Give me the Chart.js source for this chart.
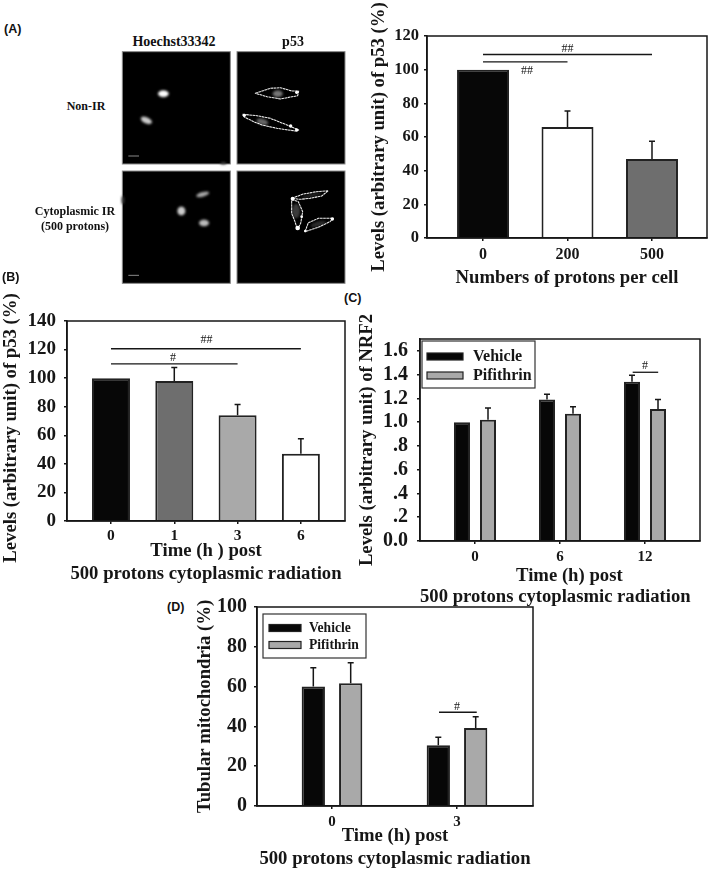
<!DOCTYPE html>
<html>
<head>
<meta charset="utf-8">
<script src="https://cdn.jsdelivr.net/npm/chart.js@4"></script>
<style>
html,body{margin:0;padding:0;background:#fff;}
#page{position:relative;width:709px;height:870px;overflow:hidden;background:#fff;}
.cv{position:absolute;}
.t{position:absolute;transform:translate(-50%,-50%);white-space:nowrap;color:#111;font:bold 12px "Liberation Serif",serif;}
.p{position:absolute;white-space:nowrap;color:#111;font:bold 12.5px "Liberation Sans",sans-serif;line-height:14px;}
svg{position:absolute;left:0;top:0;}
</style>
</head>
<body>
<div id="page">
<svg width="709" height="870" viewBox="0 0 2127 2610">
  <defs>
    <filter id="b"><feGaussianBlur stdDeviation="3"/></filter>
    <filter id="c"><feGaussianBlur stdDeviation="0.9"/></filter>
  </defs>
  <g fill="#000" stroke="#8a8a8a" stroke-width="3">
    <rect x="367" y="155" width="324" height="337"/>
    <rect x="711" y="155" width="324" height="337"/>
    <rect x="367" y="513" width="324" height="337"/>
    <rect x="711" y="513" width="324" height="337"/>
  </g>
  <g filter="url(#b)" fill="#fff">
    <ellipse cx="490" cy="281" rx="16" ry="10"/>
    <ellipse cx="439" cy="361" rx="18" ry="9" transform="rotate(25 439 361)" fill="#ccc"/>
    <ellipse cx="608" cy="583" rx="20" ry="7" transform="rotate(-15 608 583)" fill="#aaa"/>
    <ellipse cx="544" cy="633" rx="12" ry="13" fill="#ccc"/>
    <ellipse cx="612" cy="669" rx="15" ry="10" fill="#bbb"/>
    <ellipse cx="368" cy="600" rx="4" ry="12" fill="#444"/>
    <ellipse cx="670" cy="490" rx="9" ry="4" fill="#444"/>
    <ellipse cx="833" cy="281" rx="15" ry="10" fill="#777"/>
    <ellipse cx="787" cy="365" rx="18" ry="9" transform="rotate(15 787 365)" fill="#666"/>
    <ellipse cx="888" cy="633" rx="12" ry="22" fill="#3a3a3a"/>
    <ellipse cx="955" cy="672" rx="24" ry="8" transform="rotate(-15 955 672)" fill="#2a2a2a"/>
    <ellipse cx="935" cy="586" rx="30" ry="6" transform="rotate(-12 935 586)" fill="#222"/>
  </g>
  <g filter="url(#c)" fill="none" stroke="#eee" stroke-width="3.2" stroke-dasharray="8 1.5" stroke-linejoin="round">
    <polygon points="766,280 811,265 841,263 876,273 896,273 893,287 841,297 801,290"/>
    <polygon points="729,343 771,347 811,355 861,375 896,390 886,393 831,385 786,375 761,365 733,351"/>
    <polygon points="875,595 910,582 950,575 985,572 965,588 930,595 900,598"/>
    <polygon points="875,598 895,605 908,635 902,670 892,688 885,665 875,640"/>
    <polygon points="915,695 925,668 955,655 1000,655 990,665 955,682"/>
  </g>
  <g filter="url(#c)" fill="#fff">
    <circle cx="890" cy="277" r="5"/><circle cx="733" cy="346" r="5"/><circle cx="872" cy="378" r="5"/><circle cx="890" cy="390" r="5"/>
    <circle cx="878" cy="596" r="6"/><circle cx="893" cy="684" r="7"/><circle cx="905" cy="650" r="4"/><circle cx="997" cy="657" r="5"/><circle cx="916" cy="693" r="4"/>
  </g>
  <g stroke="#888" stroke-width="3">
    <line x1="385" y1="468" x2="417" y2="468"/>
    <line x1="385" y1="826" x2="417" y2="826"/>
  </g>
</svg>

<div class="t" style="left:174px;top:42px;font-size:14px;">Hoechst33342</div>
<div class="t" style="left:293px;top:42px;font-size:14px;">p53</div>
<div class="t" style="left:86px;top:106px;">Non-IR</div>
<div class="t" style="left:75px;top:211px;">Cytoplasmic IR</div>
<div class="t" style="left:75px;top:226px;">(500 protons)</div>
<div class="p" style="left:4px;top:22px;">(A)</div>
<div class="p" style="left:2px;top:270px;">(B)</div>
<div class="p" style="left:344px;top:291px;">(C)</div>
<div class="p" style="left:167px;top:600px;">(D)</div>

<canvas class="cv" id="chartA" style="left:362px;top:0;width:347px;height:290px;" width="347" height="290"></canvas>
<canvas class="cv" id="chartB" style="left:0;top:290px;width:350px;height:300px;" width="350" height="300"></canvas>
<canvas class="cv" id="chartC" style="left:350px;top:290px;width:359px;height:320px;" width="359" height="320"></canvas>
<canvas class="cv" id="chartD" style="left:180px;top:585px;width:360px;height:285px;" width="360" height="285"></canvas>
</div>

<script>
// ---- Panel A
const protonLabels = ['0', '200', '500'];
const protonP53 = [100, 66, 47];
const protonP53Upper = [null, 75.5, 57.5];
// ---- Panel B
const timeLabelsB = ['0', '1', '3', '6'];
const timeP53 = [100, 98, 74, 47];
const timeP53Upper = [null, 107.5, 81.5, 57.5];
// ---- Panel C
const timeLabelsC = ['0', '6', '12'];
const nrf2Vehicle = [1.0, 1.19, 1.34];
const nrf2VehicleUpper = [null, 1.235, 1.395];
const nrf2Pifithrin = [1.02, 1.07, 1.11];
const nrf2PifithrinUpper = [1.12, 1.13, 1.19];
// ---- Panel D
const timeLabelsD = ['0', '3'];
const tubVehicle = [60, 30.5];
const tubVehicleUpper = [69.5, 34.6];
const tubPifithrin = [61.7, 39.2];
const tubPifithrinUpper = [72, 44.8];

const INK = '#161616';
const BLACK = '#070707', DARK = '#6e6e6e', LIGHT = '#a9a9a9', WHITE = '#ffffff';
const SERIF = '"Liberation Serif", serif';

const marksPlugin = {
  id: 'marks',
  afterDatasetsDraw(chart, args, o) {
    const c = chart.ctx, xs = chart.scales.x, ys = chart.scales.y, a = chart.chartArea;
    c.save();
    // plot frame
    c.strokeStyle = INK; c.lineWidth = 1.5;
    c.strokeRect(a.left, a.top, a.right - a.left, a.bottom - a.top);
    // upper error bars
    chart.data.datasets.forEach((ds, di) => {
      const meta = chart.getDatasetMeta(di);
      (ds.upper || []).forEach((u, i) => {
        if (u === null) return;
        const px = meta.data[i].x, top = ys.getPixelForValue(u), base = meta.data[i].y;
        c.beginPath();
        c.moveTo(px, base); c.lineTo(px, top);
        c.moveTo(px - 3, top); c.lineTo(px + 3, top);
        c.stroke();
      });
    });
    // significance brackets
    (o.brackets || []).forEach(b => {
      const y = ys.getPixelForValue(b.y);
      c.lineWidth = b.w || 1.3; c.strokeStyle = INK;
      c.beginPath(); c.moveTo(xs.getPixelForValue(b.x0), y); c.lineTo(xs.getPixelForValue(b.x1), y); c.stroke();
      c.fillStyle = INK; c.font = '12px ' + SERIF; c.textAlign = 'center'; c.textBaseline = 'middle';
      c.fillText(b.text, xs.getPixelForValue(b.tx), ys.getPixelForValue(b.ty));
    });
    // legend box
    if (o.legend) {
      const L = o.legend;
      c.fillStyle = '#fff'; c.fillRect(L.x, L.y, L.w, L.h);
      c.strokeStyle = '#333'; c.lineWidth = 1.2; c.strokeRect(L.x, L.y, L.w, L.h);
      chart.data.datasets.forEach((ds, di) => {
        const sy = L.y + L.rows[di];
        c.fillStyle = ds.backgroundColor; c.fillRect(L.sx, sy - L.sh / 2, L.sw, L.sh);
        c.strokeStyle = '#222'; c.strokeRect(L.sx, sy - L.sh / 2, L.sw, L.sh);
        c.fillStyle = INK; c.font = 'bold ' + L.font + 'px ' + SERIF;
        c.textAlign = 'left'; c.textBaseline = 'middle';
        c.fillText(ds.label, L.tx, sy);
      });
    }
    c.restore();
  }
};

function build(id, cfg) {
  const datasets = cfg.series.map(s => ({
    label: s.label,
    data: s.values.map((v, i) => ({ x: i, y: v })),
    upper: s.upper,
    backgroundColor: s.color,
    borderColor: '#222',
    borderWidth: 2,
    barPercentage: cfg.barPct,
    categoryPercentage: cfg.catPct
  }));
  return new Chart(document.getElementById(id), {
    type: 'bar',
    data: { datasets },
    plugins: [marksPlugin],
    options: {
      responsive: false, animation: false,
      layout: { padding: { top: cfg.pad.top, right: cfg.pad.right, left: 0, bottom: 0 } },
      plugins: {
        legend: { display: false }, tooltip: { enabled: false },
        marks: { brackets: cfg.brackets, legend: cfg.legend }
      },
      scales: {
        x: {
          type: 'linear', min: cfg.xMin, max: cfg.xMax, offset: false,
          afterBuildTicks: s => { s.ticks = cfg.labels.map((_, i) => ({ value: i })); },
          afterFit: s => { s.height = cfg.pad.bottom; },
          grid: { offset: false, drawOnChartArea: false, drawTicks: true, tickLength: 3, color: INK, lineWidth: 1.5 },
          border: { color: INK, width: 1.5 },
          ticks: {
            autoSkip: false, maxRotation: 0, padding: cfg.xTickPad, color: INK,
            font: { family: SERIF, weight: 'bold', size: cfg.xTickSize },
            callback: v => cfg.labels[v]
          },
          title: {
            display: true, text: cfg.xTitle, color: INK,
            padding: { top: cfg.xTitlePad, bottom: cfg.xTitlePad },
            font: { family: SERIF, weight: 'bold', size: 18.7, lineHeight: cfg.xTitleLH }
          }
        },
        y: {
          min: 0, max: cfg.yMax,
          afterFit: s => { s.width = cfg.pad.left; },
          afterBuildTicks: s => { s.ticks = cfg.yTicks.map(v => ({ value: v })); },
          grid: { drawOnChartArea: false, drawTicks: true, tickLength: 3, color: INK, lineWidth: 1.5 },
          border: { color: INK, width: 1.5 },
          ticks: {
            padding: cfg.yTickPad, color: INK, autoSkip: false,
            font: { family: SERIF, weight: 'bold', size: cfg.yTickSize },
            callback: cfg.yFmt || (v => String(v))
          },
          title: {
            display: true, text: cfg.yTitle, color: INK,
            padding: { top: cfg.yTitlePad, bottom: 0 },
            font: { family: SERIF, weight: 'bold', size: 18.7 }
          }
        }
      }
    }
  });
}

const NB = '\u00a0';
const fmtNRF = v => v === 0 ? '0.0' : (v < 1 ? String(v).replace(/^0/, '') : v.toFixed(1));

build('chartA', {
  labels: protonLabels, xMin: -0.663, xMax: 2.651, yMax: 120, yTicks: [0,20,40,60,80,100,120],
  pad: { top: 36, right: 2, left: 65, bottom: 52 },
  series: [{ label: 'p53', values: protonP53, upper: protonP53Upper, color: [BLACK, WHITE, DARK] }],
  barPct: 0.615, catPct: 1,
  xTickSize: 16, xTickPad: 4, xTitle: 'Numbers of protons per cell', xTitleLH: 1.2, xTitlePad: 1,
  yTickSize: 16.5, yTickPad: 5, yTitle: 'Levels (arbitrary unit) of p53 (%)', yTitlePad: 6,
  brackets: [
    { x0: 0, x1: 2, y: 109, text: '##', tx: 1, ty: 112.5 },
    { x0: 0, x1: 1, y: 104.6, text: '##', tx: 0.52, ty: 99.5 }
  ]
});

build('chartB', {
  labels: timeLabelsB, xMin: -0.695, xMax: 3.697, yMax: 140, yTicks: [0,20,40,60,80,100,120,140],
  pad: { top: 31, right: 5, left: 67, bottom: 69 },
  series: [{ label: 'p53', values: timeP53, upper: timeP53Upper, color: [BLACK, DARK, LIGHT, WHITE] }],
  barPct: 0.6, catPct: 1,
  xTickSize: 15.5, xTickPad: 3,
  xTitle: ['Time (h ) post', '500 protons cytoplasmic radiation'], xTitleLH: 1.25, xTitlePad: 4,
  yTickSize: 19, yTickPad: 8, yTitle: 'Levels (arbitrary unit) of p53 (%)' + NB + NB + NB, yTitlePad: 0,
  brackets: [
    { x0: 0, x1: 3, y: 120.6, text: '##', tx: 1.51, ty: 126.5, w: 1.6 },
    { x0: 0, x1: 2, y: 110, text: '#', tx: 0.98, ty: 114.5 }
  ]
});

build('chartC', {
  labels: timeLabelsC, xMin: -0.647, xMax: 2.647, yMax: 1.7, yTicks: [0,0.2,0.4,0.6,0.8,1.0,1.2,1.4,1.6], yFmt: fmtNRF,
  pad: { top: 49, right: 9, left: 70, bottom: 69 },
  series: [
    { label: 'Vehicle', values: nrf2Vehicle, upper: nrf2VehicleUpper, color: BLACK },
    { label: 'Pifithrin', values: nrf2Pifithrin, upper: nrf2PifithrinUpper, color: LIGHT }
  ],
  barPct: 0.615, catPct: 0.612,
  xTickSize: 15, xTickPad: 4,
  xTitle: [NB + NB + NB + NB + 'Time (h) post', '500 protons cytoplasmic radiation' + NB + NB], xTitleLH: 1.1, xTitlePad: 3,
  yTickSize: 20, yTickPad: 9, yTitle: 'Levels (arbitrary unit) of NRF2', yTitlePad: 6,
  brackets: [{ x0: 1.855, x1: 2.155, y: 1.42, text: '#', tx: 2, ty: 1.47 }],
  legend: { x: 72, y: 51, w: 113, h: 47, sx: 77, sw: 36, sh: 7, tx: 123, rows: [15.5, 34.5], font: 16 }
});

build('chartD', {
  labels: timeLabelsD, xMin: -0.6, xMax: 1.608, yMax: 100, yTicks: [0,20,40,60,80,100],
  pad: { top: 22, right: 7, left: 77, bottom: 64 },
  series: [
    { label: 'Vehicle', values: tubVehicle, upper: tubVehicleUpper, color: BLACK },
    { label: 'Pifithrin', values: tubPifithrin, upper: tubPifithrinUpper, color: LIGHT }
  ],
  barPct: 0.623, catPct: 0.598,
  xTickSize: 15, xTickPad: 4,
  xTitle: ['Time (h) post', '500 protons cytoplasmic radiation'], xTitleLH: 1.2, xTitlePad: 0,
  yTickSize: 20, yTickPad: 7, yTitle: 'Tubular mitochondria (%)', yTitlePad: 14,
  brackets: [{ x0: 0.856, x1: 1.158, y: 47.1, text: '#', tx: 1, ty: 50 }],
  legend: { x: 83, y: 29, w: 103, h: 44, sx: 89, sw: 32, sh: 7, tx: 129, rows: [14, 31], font: 13.6 }
});
</script>
</body>
</html>
